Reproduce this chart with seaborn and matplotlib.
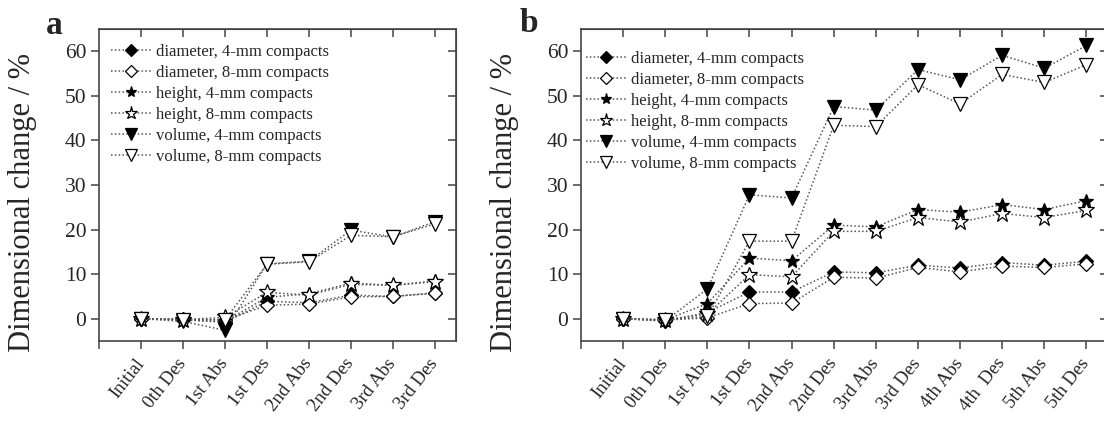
import numpy as np
import pandas as pd
import matplotlib
matplotlib.use("Agg")
import matplotlib.pyplot as plt
import seaborn as sns

sns.set_style("ticks")
plt.rcParams["font.family"] = ["Liberation Serif", "DejaVu Serif"]

# stages
stages_a = ["Initial", "0th Des", "1st Abs", "1st Des", "2nd Abs", "2nd Des", "3rd Abs", "3rd Des"]
stages_b = ["Initial", "0th Des", "1st Abs", "1st Des", "2nd Abs", "2nd Des", "3rd Abs", "3rd Des",
            "4th Abs", "4th  Des", "5th Abs", "5th Des"]

series_names = ["diameter, 4-mm compacts", "diameter, 8-mm compacts",
                "height, 4-mm compacts", "height, 8-mm compacts",
                "volume, 4-mm compacts", "volume, 8-mm compacts"]

# panel a values (%)
dia4_a = [0, -0.2, -0.8, 3.9, 3.6, 5.3, 5.0, 5.8]
dia8_a = [0, -0.1, -0.3, 3.0, 3.3, 4.9, 5.0, 5.7]
hei4_a = [0, -0.3, -0.6, 4.8, 5.6, 8.0, 7.5, 8.5]
hei8_a = [0, -0.2, 0.3, 5.9, 5.3, 7.7, 7.5, 8.3]
vol4_a = [0, -0.6, -2.6, 12.3, 12.9, 19.9, 18.3, 21.8]
vol8_a = [0, -0.2, -0.2, 12.2, 12.8, 18.7, 18.4, 21.3]

# panel b values (%)
dia4_b = [0, -0.5, 1.4, 6.0, 6.0, 10.5, 10.3, 12.0, 11.4, 12.6, 12.0, 12.9]
dia8_b = [0, -0.3, 0.2, 3.4, 3.5, 9.3, 9.1, 11.5, 10.5, 11.8, 11.5, 12.3]
hei4_b = [0, -0.3, 3.4, 13.6, 13.0, 21.0, 20.6, 24.5, 23.9, 25.6, 24.5, 26.5]
hei8_b = [0, -0.2, 1.0, 9.9, 9.4, 19.6, 19.6, 22.7, 21.7, 23.6, 22.7, 24.3]
vol4_b = [0, -0.5, 6.7, 27.8, 27.1, 47.6, 46.8, 55.9, 53.6, 59.1, 56.2, 61.3]
vol8_b = [0, -0.3, 0.5, 17.4, 17.4, 43.4, 43.1, 52.5, 48.2, 54.8, 53.0, 57.0]

styles = [
    dict(marker="D", markersize=7.5, markerfacecolor="black"),
    dict(marker="D", markersize=7.5, markerfacecolor="white"),
    dict(marker="*", markersize=10, markerfacecolor="black"),
    dict(marker="*", markersize=12, markerfacecolor="white"),
    dict(marker="v", markersize=10, markerfacecolor="black"),
    dict(marker="v", markersize=10.5, markerfacecolor="white"),
]


def make_df(stages, cols):
    rows = []
    for name, vals in zip(series_names, cols):
        for i, v in enumerate(vals):
            rows.append({"pos": i, "stage": stages[i], "series": name, "value": v})
    return pd.DataFrame(rows)


df_a = make_df(stages_a, [dia4_a, dia8_a, hei4_a, hei8_a, vol4_a, vol8_a])
df_b = make_df(stages_b, [dia4_b, dia8_b, hei4_b, hei8_b, vol4_b, vol8_b])

W, H = 1104, 421
fig = plt.figure(figsize=(W / 100, H / 100), dpi=100)
ax_a = fig.add_axes([99 / W, 80 / H, 357 / W, 312 / H])
ax_b = fig.add_axes([581 / W, 80 / H, 526.5 / W, 312 / H])

spine_col = "#444444"


def draw(ax, df, stages, leg_xy):
    for name, st in zip(series_names, styles):
        sub = df[df["series"] == name]
        sns.lineplot(data=sub, x="pos", y="value", ax=ax, label=name, sort=False,
                     color="#555555", linestyle=(0, (1, 1.5)), linewidth=1.1,
                     markeredgecolor="black", markeredgewidth=0.9, **st)
    n = len(stages)
    ax.set_xlim(-1, n - 0.5)
    ax.set_ylim(-5, 65)
    ax.set_xticks(range(-1, n))
    ax.set_xticklabels([""] + stages, rotation=52, ha="right", va="center",
                       rotation_mode="anchor", fontsize=13.5)
    ax.set_yticks(range(0, 61, 10))
    ax.tick_params(axis="y", labelsize=15.5)
    ax.tick_params(direction="out", length=6, width=1.1, color=spine_col, pad=3)
    ax.tick_params(axis="x", pad=8)
    ax.set_xlabel("")
    ax.set_ylabel("Dimensional change / %", fontsize=22)
    ax.yaxis.set_label_coords(-62 / (ax.get_position().width * W), 0.445)
    for s in ax.spines.values():
        s.set_visible(True)
        s.set_color(spine_col)
        s.set_linewidth(1.2)
    top = ax.secondary_xaxis("top")
    top.set_xticks(range(0, n))
    top.tick_params(direction="in", length=6, width=1.1, color=spine_col, labeltop=False)
    top.spines["top"].set_color(spine_col)
    right = ax.secondary_yaxis("right")
    right.set_yticks(range(0, 61, 10))
    right.tick_params(direction="in", length=6, width=1.1, color=spine_col, labelright=False)
    right.spines["right"].set_color(spine_col)
    leg = ax.legend(loc="upper left", bbox_to_anchor=leg_xy, frameon=False, fontsize=12,
                    borderaxespad=0, borderpad=0, handlelength=2.4, handletextpad=0.3,
                    labelspacing=0.3, numpoints=1, markerscale=0.8)
    return leg


draw(ax_a, df_a, stages_a, (0.034, 0.952))
draw(ax_b, df_b, stages_b, (0.0095, 0.930))

fig.text(54 / W, 1 - 34 / H, "a", fontsize=24, fontweight="bold", ha="center", va="baseline")
fig.text(529 / W, 1 - 32 / H, "b", fontsize=24, fontweight="bold", ha="center", va="baseline")

fig.savefig("out.png", dpi=100)
